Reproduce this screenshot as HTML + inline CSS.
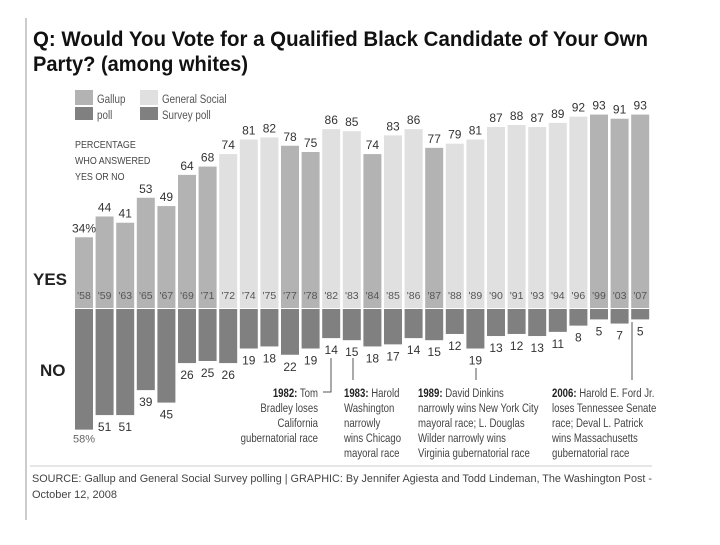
<!DOCTYPE html>
<html><head><meta charset="utf-8"><style>
body{margin:0;background:#fff;}
svg text{font-family:"Liberation Sans",sans-serif;}
</style></head><body>
<svg id="chart" width="720" height="540" xmlns="http://www.w3.org/2000/svg">
<rect x="0" y="0" width="720" height="540" fill="#fff"/>
<line x1="26" y1="18" x2="26" y2="520" stroke="#ccc" stroke-width="2"/>
<text x="33" y="46" font-size="21" font-weight="bold" textLength="615" lengthAdjust="spacingAndGlyphs" fill="#111">Q: Would You Vote for a Qualified Black Candidate of Your Own</text>
<text x="33" y="71" font-size="21" font-weight="bold" textLength="215" lengthAdjust="spacingAndGlyphs" fill="#111">Party? (among whites)</text>
<g>
<rect x="75" y="90" width="18" height="15" fill="#b3b3b3"/><rect x="75" y="107" width="18" height="13" fill="#808080"/>
<g transform="translate(97,0) scale(0.82,1)" font-size="12" fill="#555"><text x="0" y="103">Gallup</text><text x="0" y="119">poll</text></g>
<rect x="140" y="90" width="18" height="15" fill="#e0e0e0"/><rect x="140" y="107" width="18" height="13" fill="#808080"/>
<g transform="translate(162,0) scale(0.82,1)" font-size="12" fill="#555"><text x="0" y="103">General Social</text><text x="0" y="119">Survey poll</text></g>
</g>
<g transform="translate(75,0) scale(0.85,1)"><text font-size="10.5" fill="#444"><tspan x="0" y="148">PERCENTAGE</tspan><tspan x="0" y="164">WHO ANSWERED</tspan><tspan x="0" y="180">YES OR NO</tspan></text></g>
<text x="33" y="285" font-size="17" font-weight="bold" fill="#222">YES</text>
<text x="40" y="376" font-size="17" font-weight="bold" fill="#222">NO</text>
<g id="bars"></g>
<g font-size="12" fill="#444">
<polyline points="323,392 331,392 331,358" fill="none" stroke="#555"/>
<line x1="353" y1="358" x2="353" y2="380" stroke="#555"/>
<line x1="476" y1="368" x2="476" y2="380" stroke="#555"/>
<line x1="632" y1="322" x2="632" y2="380" stroke="#555"/>
<g transform="translate(318,0) scale(0.8,1)"><text text-anchor="end"><tspan x="0" y="397"><tspan font-weight="bold" fill="#222">1982:</tspan> Tom</tspan><tspan x="0" y="412">Bradley loses</tspan><tspan x="0" y="427">California</tspan><tspan x="0" y="442">gubernatorial race</tspan></text></g>
<g transform="translate(344,0) scale(0.8,1)"><text><tspan x="0" y="397"><tspan font-weight="bold" fill="#222">1983:</tspan> Harold</tspan><tspan x="0" y="412">Washington</tspan><tspan x="0" y="427">narrowly</tspan><tspan x="0" y="442">wins Chicago</tspan><tspan x="0" y="457">mayoral race</tspan></text></g>
<g transform="translate(418,0) scale(0.8,1)"><text><tspan x="0" y="397"><tspan font-weight="bold" fill="#222">1989:</tspan> David Dinkins</tspan><tspan x="0" y="412">narrowly wins New York City</tspan><tspan x="0" y="427">mayoral race; L. Douglas</tspan><tspan x="0" y="442">Wilder narrowly wins</tspan><tspan x="0" y="457">Virginia gubernatorial race</tspan></text></g>
<g transform="translate(552,0) scale(0.8,1)"><text><tspan x="0" y="397"><tspan font-weight="bold" fill="#222">2006:</tspan> Harold E. Ford Jr.</tspan><tspan x="0" y="412">loses Tennessee Senate</tspan><tspan x="0" y="427">race; Deval L. Patrick</tspan><tspan x="0" y="442">wins Massachusetts</tspan><tspan x="0" y="457">gubernatorial race</tspan></text></g>
</g>
<line x1="30" y1="466" x2="652" y2="466" stroke="#ccc"/>
<text font-size="11" fill="#444"><tspan x="32" y="482" textLength="620" lengthAdjust="spacingAndGlyphs">SOURCE: Gallup and General Social Survey polling | GRAPHIC: By Jennifer Agiesta and Todd Lindeman, The Washington Post -</tspan><tspan x="32" y="498">October 12, 2008</tspan></text>
</svg>
<script>
const years=["'58","'59","'63","'65","'67","'69","'71","'72","'74","'75","'77","'78","'82","'83","'84","'85","'86","'87","'88","'89","'90","'91","'93","'94","'96","'99","'03","'07"];
const yesValues=[34,44,41,53,49,64,68,74,81,82,78,75,86,85,74,83,86,77,79,81,87,88,87,89,92,93,91,93];
const noValues=[58,51,51,39,45,26,25,26,19,18,22,19,14,15,18,17,14,15,12,19,13,12,13,11,8,5,7,5];
const pollSource=["G","G","G","G","G","G","G","S","S","S","G","G","S","S","G","S","S","G","S","S","S","S","S","S","S","G","G","G"];
const NS="http://www.w3.org/2000/svg";
const g=document.getElementById('bars');
const x0=75,pitch=20.6,bw=18,base=308,k=2.08;
function xPos(i){return x0+i*pitch;}
function yUp(v){return base-v*k;}
function yDown(v){return base+1+v*k;}
function mk(tag,attrs,parent){const e=document.createElementNS(NS,tag);for(const a in attrs)e.setAttribute(a,attrs[a]);parent.appendChild(e);return e;}
years.forEach((yr,i)=>{
  const x=xPos(i),cx=x+bw/2;
  const yb=mk('rect',{x:x,y:yUp(yesValues[i]),width:bw,height:yesValues[i]*k,fill:pollSource[i]==='G'?'#b3b3b3':'#e0e0e0'},g);
  
  
  const nb=mk('rect',{x:x,y:base+1,width:bw,height:noValues[i]*k,fill:'#808080'},g);
  
  
  const yl=mk('text',{x:cx,y:yUp(yesValues[i])-5,'text-anchor':'middle','font-size':'12',fill:'#333'},g);
  yl.textContent=yesValues[i]+(i===0?'%':'');
  
  
  const nl=mk('text',{x:cx,y:yDown(noValues[i])+(i===0?13:16),'text-anchor':'middle','font-size':i===0?'11':'12',fill:i===0?'#666':'#333'},g);
  nl.textContent=noValues[i]+(i===0?'%':'');
  
  
  const t=mk('text',{x:cx,y:299,'text-anchor':'middle','font-size':'10.5',fill:'#555'},g);
  t.textContent=yr;
  
  
});
</script>
</body></html>
